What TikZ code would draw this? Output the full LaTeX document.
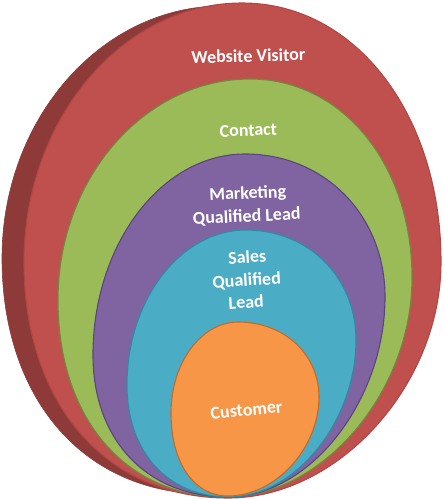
\documentclass[tikz,border=0pt]{standalone}
\usepackage{fontspec}
\setmainfont{Carlito}
\definecolor{redface}{HTML}{C0504D}
\definecolor{redside}{HTML}{8E3A38}
\definecolor{redline}{HTML}{B04744}
\definecolor{greenface}{HTML}{9BBB59}
\definecolor{greenline}{HTML}{71893F}
\definecolor{purpleface}{HTML}{8064A2}
\definecolor{purpleline}{HTML}{5C4480}
\definecolor{cyanface}{HTML}{4BACC6}
\definecolor{cyanline}{HTML}{2E8BA3}
\definecolor{orangeface}{HTML}{F79646}
\definecolor{orangeline}{HTML}{C46A26}
\def\kur{0.57}\def\kbr{0.52}\def\kbl{0.60}\def\kul{0.55}
% #1 style, T=(#2,#3), R=(#4,#5), B=(#6,#7), L=(#8,#9)
\newcommand\eggshape[9]{%
  \draw[#1] (#2,#3) .. controls ({#2+\kur*(#4-#2)},#3) and (#4,{#5-\kur*(#5-#3)}) .. (#4,#5)
    .. controls (#4,{#5+\kbr*(#7-#5)}) and ({#6+\kbr*(#4-#6)},#7) .. (#6,#7)
    .. controls ({#6-\kbl*(#6-#8)},#7) and (#8,{#9+\kbl*(#7-#9)}) .. (#8,#9)
    .. controls (#8,{#9-\kul*(#9-#3)}) and ({#2-\kul*(#2-#8)},#3) .. cycle;}
\tikzset{
  layer/.style={line width=1.1pt},
  lbl/.style={text=white, font=\bfseries\fontsize{18}{22}\selectfont, inner sep=0pt, anchor=base},
}
\begin{document}
\begin{tikzpicture}[x=1pt,y=-1pt]
\fill[white] (0,0) rectangle (444,499);
\useasboundingbox (0,0) rectangle (444,499);
% extrusion
\eggshape{fill=redside, draw=redside, line width=0.6pt}{222}{6}{420}{262}{208}{494}{2}{258}
% faces
\eggshape{layer, fill=redface, draw=redline}{242}{3}{441}{262}{228}{498}{24}{262}
\eggshape{layer, fill=greenface, draw=greenline}{250}{79}{412}{278}{226}{497}{58}{300}
\eggshape{layer, fill=purpleface, draw=purpleline}{245}{154}{385}{297}{228}{497}{93}{355}
\eggshape{layer, fill=cyanface, draw=cyanline}{246}{230}{356}{340}{229}{497}{127}{385}
\eggshape{layer, fill=orangeface, draw=orangeline}{238}{322}{319}{397}{228}{496}{171}{413}
% labels
\node[lbl, rotate=1.5] (wv) at (248.5,62) {Website Visitor};
\node[lbl, rotate=2] (ct) at (248.5,136) {Contact};
\node[lbl, rotate=2.5] (mq1) at (248,199) {Marketing};
\node[lbl, rotate=2.7] (mq2) at (247,222) {Qualified Lead};
\node[lbl, rotate=3.5] (sq1) at (247.5,263) {Sales};
\node[lbl, rotate=3.5] (sq2) at (247,286) {Qualified};
\node[lbl, rotate=3.5] (sq3) at (246.5,308) {Lead};
\node[lbl, rotate=5.7] (cu) at (247,416) {Customer};
\end{tikzpicture}
\end{document}
